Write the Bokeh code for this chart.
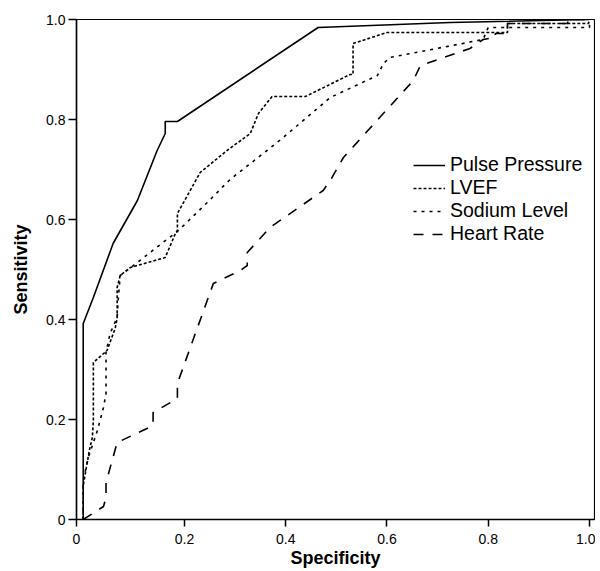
from bokeh.plotting import figure
from bokeh.models import Range1d, FixedTicker, CustomJSTickFormatter
from bokeh.embed import file_html
from bokeh.resources import INLINE

# ROC curves (x = 1 - specificity axis as labelled "Specificity")
pulse_x = [0.0, 0.0, 0.020, 0.059, 0.107, 0.146, 0.162, 0.162, 0.186, 0.464, 0.725, 1.0]
pulse_y = [0.0, 0.392, 0.444, 0.552, 0.638, 0.738, 0.772, 0.796, 0.796, 0.984, 0.994, 1.0]

lvef_x = [0.0, 0.0, 0.012, 0.018, 0.020, 0.020, 0.047, 0.063, 0.067, 0.067, 0.073, 0.093,
          0.162, 0.182, 0.186, 0.186, 0.231, 0.284, 0.330, 0.346, 0.373, 0.439, 0.527,
          0.533, 0.533, 0.600, 0.838, 0.838, 0.998, 1.0]
lvef_y = [0.0, 0.068, 0.138, 0.164, 0.198, 0.314, 0.338, 0.382, 0.402, 0.464, 0.488, 0.504,
          0.524, 0.572, 0.578, 0.612, 0.694, 0.738, 0.772, 0.812, 0.846, 0.846, 0.890,
          0.890, 0.952, 0.974, 0.974, 0.992, 0.992, 1.0]

sodium_x = [0.0, 0.0, 0.010, 0.028, 0.040, 0.045, 0.045, 0.053, 0.067, 0.069, 0.073, 0.107,
            0.142, 0.186, 0.245, 0.290, 0.363, 0.395, 0.488, 0.581, 0.593, 0.606, 0.790,
            0.800, 1.0, 1.0]
sodium_y = [0.0, 0.078, 0.124, 0.178, 0.224, 0.252, 0.334, 0.372, 0.404, 0.438, 0.488, 0.514,
            0.542, 0.576, 0.634, 0.680, 0.738, 0.764, 0.844, 0.888, 0.912, 0.924, 0.960,
            0.984, 0.984, 1.0]

hr_x = [0.0, 0.040, 0.045, 0.045, 0.067, 0.126, 0.138, 0.138, 0.186, 0.186, 0.257, 0.310,
        0.324, 0.324, 0.369, 0.474, 0.488, 0.514, 0.652, 0.666, 0.764, 0.790, 0.814, 0.814,
        0.838, 0.838, 0.957, 0.957, 1.0]
hr_y = [0.0, 0.026, 0.044, 0.074, 0.154, 0.182, 0.190, 0.214, 0.242, 0.272, 0.472, 0.498,
        0.508, 0.534, 0.584, 0.658, 0.678, 0.724, 0.878, 0.908, 0.942, 0.960, 0.964, 0.972,
        0.972, 0.992, 0.992, 1.0, 1.0]

x_ticks = [-0.0133, 0.2, 0.4, 0.6, 0.8, 1.0]
y_ticks = [0.0, 0.2, 0.4, 0.6, 0.8, 1.0]

FONT = "Liberation Sans"

p = figure(width=595, height=571, output_backend="svg", toolbar_location=None,
           x_range=Range1d(-0.0133, 1.0099), y_range=Range1d(0.0, 1.0),
           min_border_left=76, min_border_right=1, min_border_top=19, min_border_bottom=52)

p.xgrid.visible = False
p.ygrid.visible = False
p.background_fill_color = "white"
p.border_fill_color = "white"
p.outline_line_color = "black"
p.outline_line_width = 1.2

lw = 1.6
p.line(pulse_x, pulse_y, line_color="black", line_width=lw, legend_label="Pulse Pressure")
p.line(lvef_x, lvef_y, line_color="black", line_width=lw, line_dash="3 2", legend_label="LVEF")
p.line(sodium_x, sodium_y, line_color="black", line_width=lw, line_dash="3 5", legend_label="Sodium Level")
p.line(hr_x, hr_y, line_color="black", line_width=lw, line_dash="10 9", legend_label="Heart Rate")

for ax in (p.xaxis[0], p.yaxis[0]):
    ax.axis_line_color = "black"
    ax.axis_line_width = 1.5
    ax.major_tick_line_color = "black"
    ax.major_tick_line_width = 1.5
    ax.major_tick_in = 0
    ax.minor_tick_line_color = None
    ax.major_label_text_font = FONT
    ax.major_label_text_font_size = "14px"
    ax.major_label_text_color = "black"
    ax.axis_label_text_font = FONT
    ax.axis_label_text_font_size = "18px"
    ax.axis_label_text_font_style = "bold"
    ax.axis_label_text_color = "black"

p.xaxis.ticker = FixedTicker(ticks=x_ticks)
p.yaxis.ticker = FixedTicker(ticks=y_ticks)
p.xaxis.formatter = CustomJSTickFormatter(code="return tick < 0.1 ? '0' : tick.toFixed(1);")
p.yaxis.formatter = CustomJSTickFormatter(code="return tick == 0 ? '0' : tick.toFixed(1);")
p.xaxis.major_tick_out = 7
p.yaxis.major_tick_out = 8
p.xaxis.major_label_standoff = 7
p.yaxis.major_label_standoff = 3
p.xaxis.axis_label = "Specificity"
p.yaxis.axis_label = "Sensitivity"
p.xaxis.axis_label_standoff = 1
p.yaxis.axis_label_standoff = 12

lg = p.legend[0]
lg.location = (337, 274)
lg.border_line_color = None
lg.background_fill_alpha = 0
lg.padding = 0
lg.margin = 0
lg.spacing = 0
lg.glyph_width = 32
lg.label_standoff = 5
lg.label_text_font = FONT
lg.label_text_font_size = "19.5px"
lg.label_text_color = "black"

open("out.html", "w").write(file_html(p, INLINE))
